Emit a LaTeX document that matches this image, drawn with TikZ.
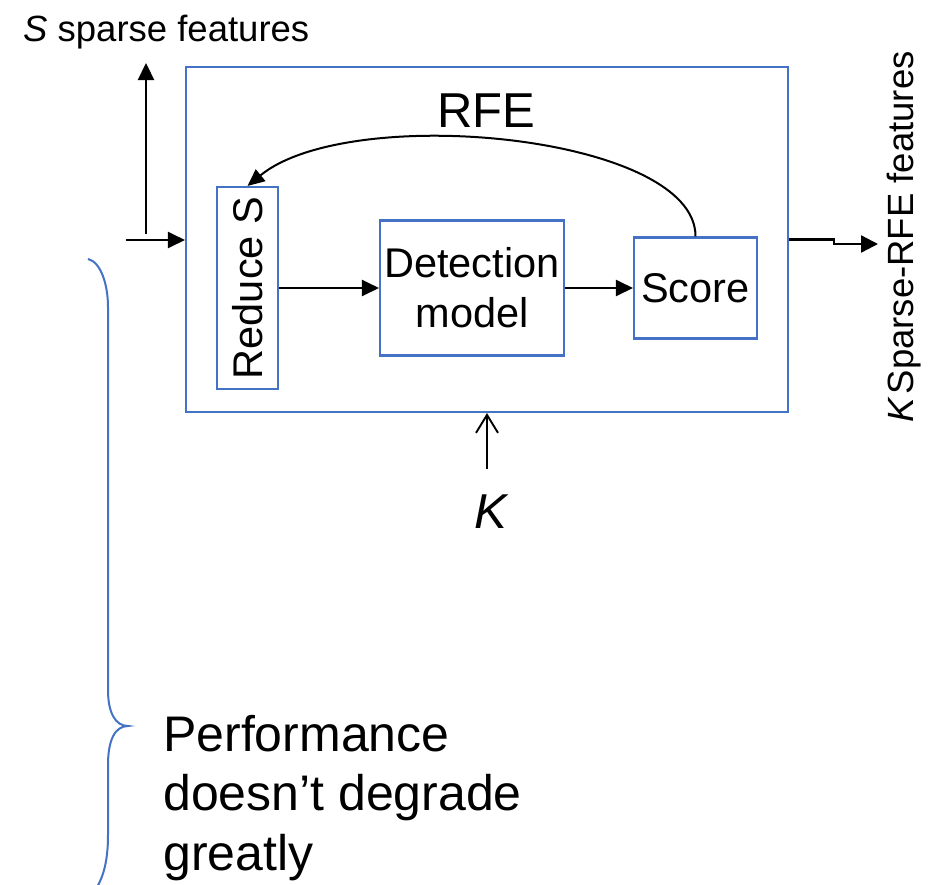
\documentclass[tikz,border=0pt]{standalone}
\usepackage{fontspec}
\setmainfont{Liberation Sans}
\usetikzlibrary{arrows.meta}
\definecolor{boxblue}{RGB}{68,114,196}
\begin{document}
\begin{tikzpicture}[x=1pt,y=-1pt,
  outline/.style={draw=boxblue, line width=2.1pt, inner sep=0pt},
  blk/.style={outline, align=center, font=\fontsize{41.5}{50}\selectfont},
  arr/.style={line width=2.3pt, -{Triangle[length=17pt,width=16pt]}},
  bigtext/.style={inner sep=0pt, font=\fontsize{49}{59}\selectfont},
  smalltext/.style={inner sep=0pt, font=\fontsize{36.5}{44}\selectfont}]
\useasboundingbox (0,0) rectangle (939,884);
\clip (0,0) rectangle (939,884);

% RFE block and its inner stages
\node[outline, minimum width=602pt, minimum height=345pt] (outer) at (487,239.5) {};
\node[blk, minimum width=61pt, minimum height=202pt] (reduce) at (247.5,288) {\rotatebox{90}{Reduce S}};
\node[blk, minimum width=184pt, minimum height=135pt] (det) at (472,288) {Detection\\model};
\node[blk, minimum width=123pt, minimum height=101pt] (score) at (695.5,288) {Score};

% labels
\node[smalltext, anchor=base west] (slabel) at (23,41) {\textit{S} sparse features};
\node[bigtext, anchor=base] (rfe) at (486,127) {RFE};
\node[bigtext, anchor=base, font=\fontsize{49}{59}\selectfont\itshape] (klabel) at (491,528) {K};
\node[smalltext, rotate=90, anchor=base west] (klab2) at (913,423) {\textit{K}\hspace{0.08em}Sparse-RFE features};
\node[anchor=base west, align=left, inner sep=0pt, font=\fontsize{50}{59.5}\selectfont] (perf) at (163,870) {Performance\\doesn’t degrade\\greatly};

% connector end points
\coordinate (in) at (126,240);
\coordinate (upfoot) at (146,234);
\coordinate (uptip) at (146,63);
\coordinate (outend) at (878,244);
\coordinate (kfoot) at (487,469);

% flow
\draw[arr] (in) -- (in -| outer.west);
\draw[arr] (upfoot) -- (uptip);
\draw[arr] (reduce.east) -- (det.west);
\draw[arr] (det.east) -- (score.west);
\draw[line width=2pt, -{Triangle[length=17pt,width=15pt]}]
  (score.north) .. controls (696,135) and (350,102) .. (reduce.north);
\draw[arr, -{Triangle[length=17pt,width=17pt]}] (outer.east) -- ++(45,0) |- (outend);
\draw[line width=1.9pt, -{Straight Barb[length=18pt,width=22pt,line width=1.9pt]}]
  (kfoot) -- (kfoot |- outer.south);

% brace
\draw[boxblue, line width=2pt]
  (88,259) .. controls (101,262) and (108,285) .. (108,307)
  -- (108,690) .. controls (108,712) and (115,726) .. (128,726)
  .. controls (115,726) and (108,740) .. (108,765)
  -- (108,835) .. controls (108,862) and (103,880) .. (93,893);
\end{tikzpicture}
\end{document}
